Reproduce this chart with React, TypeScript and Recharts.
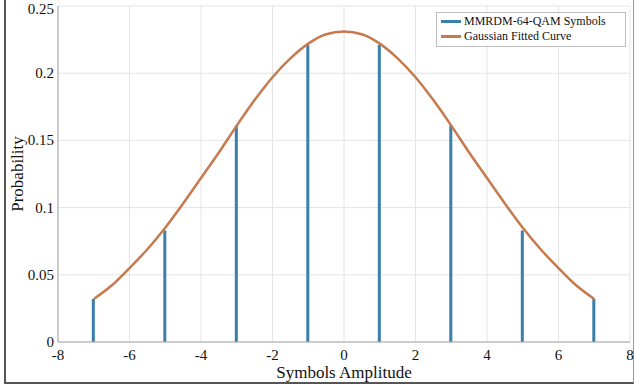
import React from 'react';
import {
  ComposedChart,
  Bar,
  Line,
  XAxis,
  YAxis,
  CartesianGrid,
} from 'recharts';

// symbol amplitudes and their probabilities (stems)
const symbols = [-7, -5, -3, -1, 1, 3, 5, 7];
const symbolProb = [0.032, 0.083, 0.161, 0.221, 0.221, 0.161, 0.083, 0.032];

// fitted curve, every 0.5
const curveX = [
  -7, -6.5, -6, -5.5, -5, -4.5, -4, -3.5, -3, -2.5, -2, -1.5, -1, -0.5, 0,
  0.5, 1, 1.5, 2, 2.5, 3, 3.5, 4, 4.5, 5, 5.5, 6, 6.5, 7,
];
const curveY = [
  0.032, 0.042, 0.055, 0.069, 0.085, 0.103, 0.122, 0.141, 0.161, 0.18, 0.197,
  0.211, 0.222, 0.229, 0.231, 0.229, 0.222, 0.211, 0.197, 0.18, 0.161, 0.141,
  0.122, 0.103, 0.085, 0.069, 0.055, 0.042, 0.032,
];

const xTicks = [-8, -6, -4, -2, 0, 2, 4, 6, 8];
const yTicks = [0, 0.05, 0.1, 0.15, 0.2, 0.25];

const data = curveX.map((x, i) => {
  const k = symbols.indexOf(x);
  return { x, fit: curveY[i], stem: k >= 0 ? symbolProb[k] : null };
});

const STEM = '#3b7fab';
const FIT = '#c67a4e';
const FONT = '"Liberation Serif", "Times New Roman", serif';

const XTick = ({ x, y, payload }: any) => (
  <text x={x} y={y + 12} textAnchor="middle" fontFamily={FONT} fontSize={15} fill="#111">
    {payload.value}
  </text>
);

const YTick = ({ x, y, payload }: any) => (
  <text x={x + 2} y={y + 5} textAnchor="end" fontFamily={FONT} fontSize={15} fill="#111">
    {payload.value}
  </text>
);

const legendItems = [
  ['MMRDM-64-QAM Symbols', STEM],
  ['Gaussian Fitted Curve', FIT],
];

// drawn on top of the chart so the plot keeps its full width
const LegendBox = () => (
  <div
    style={{
      position: 'absolute',
      top: 12,
      left: 436,
      width: 190,
      boxSizing: 'border-box',
      background: '#fff',
      border: '1px solid #bdbdbd',
      padding: '1px 4px 2px 4px',
      fontFamily: FONT,
      fontSize: 12,
      lineHeight: '15px',
      color: '#111',
    }}
  >
    {legendItems.map(([name, c]) => (
      <div key={name} style={{ display: 'flex', alignItems: 'center' }}>
        <span style={{ width: 20, height: 3, background: c, marginRight: 3 }} />
        {name}
      </div>
    ))}
  </div>
);

export default function App() {
  return (
    <div style={{ position: 'absolute', left: 0, top: 0, width: 634, height: 385, background: '#fff' }}>
      <div
        style={{
          position: 'absolute',
          left: 4,
          top: 0,
          width: 627,
          height: 382,
          borderLeft: '2px solid #555',
          borderBottom: '2px solid #555',
          borderRight: '1px solid #999',
        }}
      />
      <ComposedChart
        width={634}
        height={385}
        data={data}
        margin={{ top: 6, right: 4, bottom: 23, left: 8 }}
      >
        <CartesianGrid stroke="#e4e4e4" strokeWidth={1} />
        <XAxis
          dataKey="x"
          type="number"
          domain={[-8, 8]}
          ticks={xTicks}
          tickLine={false}
          axisLine={{ stroke: '#a8a8a8' }}
          tick={<XTick />}
          tickMargin={0}
          height={20}
          label={{ value: 'Symbols Amplitude', position: 'insideBottom', offset: -16, fill: '#111', fontSize: 17, fontFamily: FONT }}
        />
        <XAxis xAxisId="top" orientation="top" type="number" domain={[-8, 8]} tick={false} tickLine={false} axisLine={{ stroke: '#c8c8c8' }} height={0} />
        <YAxis
          type="number"
          domain={[0, 0.25]}
          ticks={yTicks}
          tickLine={false}
          axisLine={{ stroke: '#a8a8a8' }}
          tick={<YTick />}
          tickMargin={0}
          width={50}
          label={{ value: 'Probability', angle: -90, position: 'insideLeft', offset: 9, fill: '#111', fontSize: 17, fontFamily: FONT, style: { textAnchor: 'middle' } }}
        />
        <YAxis yAxisId="right" orientation="right" domain={[0, 0.25]} tick={false} tickLine={false} axisLine={{ stroke: '#c8c8c8' }} width={0} />
        <Bar dataKey="stem" name="MMRDM-64-QAM Symbols" fill={STEM} barSize={3} isAnimationActive={false} />
        <Line
          dataKey="fit"
          name="Gaussian Fitted Curve"
          type="monotone"
          stroke={FIT}
          strokeWidth={2.5}
          dot={false}
          isAnimationActive={false}
        />
      </ComposedChart>
      <LegendBox />
    </div>
  );
}
